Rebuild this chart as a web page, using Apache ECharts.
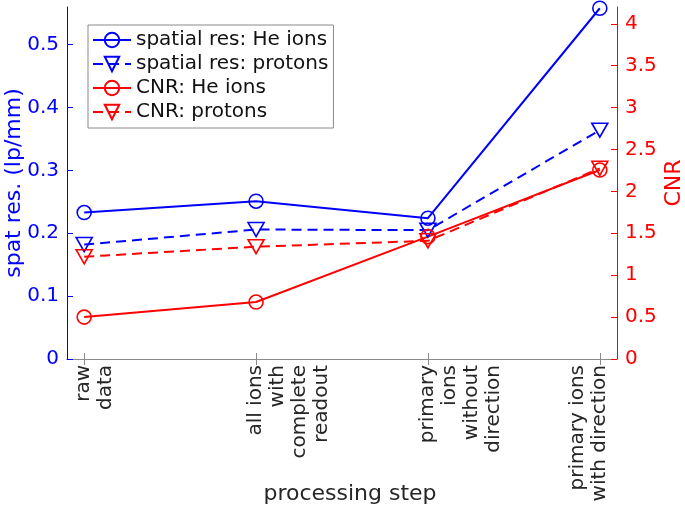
<!DOCTYPE html>
<html>
<head>
<meta charset="utf-8">
<script src="https://cdn.jsdelivr.net/npm/echarts@6/dist/echarts.min.js"></script>
<style>
html,body{margin:0;padding:0;background:#fff;}
#chart{width:685px;height:511px;}
</style>
</head>
<body>
<div id="chart"></div>
<script>
const categories = ["raw\ndata", "all ions\nwith\ncomplete\nreadout", "primary\nions\nwithout\ndirection", "primary ions\nwith direction"];
const spatialHe = [0.233, 0.251, 0.224, 0.558];
const spatialProtons = [0.182, 0.206, 0.205, 0.364];
const cnrHe = [0.50, 0.68, 1.46, 2.255];
const cnrProtons = [1.22, 1.34, 1.41, 2.275];
const leftTicks = [0, 0.1, 0.2, 0.3, 0.4, 0.5];
const rightTicks = [0, 0.5, 1, 1.5, 2, 2.5, 3, 3.5, 4];
const seriesNames = ["spatial res: He ions", "spatial res: protons", "CNR: He ions", "CNR: protons"];

const BLUE = '#0000ff', RED = '#ff0000', GRAY = '#8a8a8a', TXT = '#262626';
const FONT = 'DejaVu Sans';
const catPos = categories.map((c, i) => i + 1);
const pairs = arr => arr.map((v, i) => [catPos[i], v]);

// pad label lines so the first line (or last for the final label) sits on the tick
function padLabel(idx) {
  const lines = categories[idx].split('\n');
  const n = lines.length;
  if (idx === categories.length - 1) {
    return lines.concat(new Array(n - 1).fill(' ')).join('\n');
  }
  return new Array(n - 1).fill(' ').concat(lines).join('\n');
}

function mkSeries(name, data, color, dashed, tri, yIdx) {
  return {
    name: name,
    type: 'line',
    yAxisIndex: yIdx,
    data: pairs(data),
    symbol: tri ? 'triangle' : 'circle',
    symbolRotate: tri ? 180 : 0,
    symbolSize: tri ? [16, 14] : 14,
    showAllSymbol: true,
    lineStyle: { color: color, width: 2, type: dashed ? [10, 6] : 'solid' },
    itemStyle: { color: 'rgba(255,255,255,0)', borderColor: color, borderWidth: 1.6 },
    emphasis: { disabled: true },
    animation: false,
    z: 3
  };
}

const chart = echarts.init(document.getElementById('chart'), null, { renderer: 'canvas' });
chart.setOption({
  backgroundColor: '#fff',
  animation: false,
  textStyle: { fontFamily: FONT },
  grid: { left: 67, right: 68, top: 7, bottom: 152, outerBoundsMode: 'none', containLabel: false },
  legend: {
    orient: 'vertical',
    left: 88, top: 25,
    backgroundColor: '#fff',
    borderColor: GRAY, borderWidth: 1,
    padding: [5, 5, 6, 4],
    itemWidth: 38, itemHeight: 18, itemGap: 4,
    textStyle: { fontSize: 20, lineHeight: 20, color: '#111', fontFamily: FONT },
    data: seriesNames
  },
  xAxis: [{
    type: 'value', position: 'bottom', min: 0.9, max: 4.1,
    name: 'processing step', nameLocation: 'middle', nameGap: 124, nameMoveOverlap: false,
    nameTextStyle: { fontSize: 22, color: TXT, fontFamily: FONT, padding: [0, 0, 0, 16] },
    axisLine: { show: true, lineStyle: { color: GRAY, width: 1 } },
    axisTick: { show: true, inside: true, length: 6, lineStyle: { color: GRAY }, customValues: catPos },
    axisLabel: {
      show: true, rotate: 90, margin: 6, fontSize: 20, lineHeight: 22, color: TXT, fontFamily: FONT,
      customValues: catPos,
      formatter: v => padLabel(Math.round(v) - 1)
    },
    splitLine: { show: false }
  }, {
    type: 'value', position: 'top', min: 0.9, max: 4.1,
    axisLine: { show: true, lineStyle: { color: GRAY, width: 1 } },
    axisTick: { show: true, inside: true, length: 6, lineStyle: { color: GRAY }, customValues: catPos },
    axisLabel: { show: false },
    splitLine: { show: false }
  }],
  yAxis: [{
    type: 'value', position: 'left', min: 0, max: 0.56,
    name: 'spat res. (lp/mm)', nameLocation: 'middle', nameGap: 42, nameRotate: 90, nameMoveOverlap: false,
    nameTextStyle: { fontSize: 22, color: BLUE, fontFamily: FONT },
    axisLine: { show: true, lineStyle: { color: BLUE, width: 1 } },
    axisTick: { show: true, inside: true, length: 6, lineStyle: { color: BLUE }, customValues: leftTicks },
    axisLabel: { margin: 8, fontSize: 20, color: BLUE, fontFamily: FONT, customValues: leftTicks,
      formatter: v => String(Math.round(v * 10) / 10) },
    splitLine: { show: false }
  }, {
    type: 'value', position: 'right', min: 0, max: 4.2,
    name: 'CNR', nameLocation: 'middle', nameGap: 46, nameRotate: 90, nameMoveOverlap: false,
    nameTextStyle: { fontSize: 22, color: RED, fontFamily: FONT },
    axisLine: { show: true, lineStyle: { color: RED, width: 1 } },
    axisTick: { show: true, inside: true, length: 6, lineStyle: { color: RED }, customValues: rightTicks },
    axisLabel: { margin: 8, fontSize: 20, color: RED, fontFamily: FONT, customValues: rightTicks,
      formatter: v => String(Math.round(v * 10) / 10) },
    splitLine: { show: false }
  }],
  series: [
    mkSeries(seriesNames[0], spatialHe, BLUE, false, false, 0),
    mkSeries(seriesNames[1], spatialProtons, BLUE, true, true, 0),
    mkSeries(seriesNames[2], cnrHe, RED, false, false, 1),
    mkSeries(seriesNames[3], cnrProtons, RED, true, true, 1)
  ]
});
</script>
</body>
</html>
